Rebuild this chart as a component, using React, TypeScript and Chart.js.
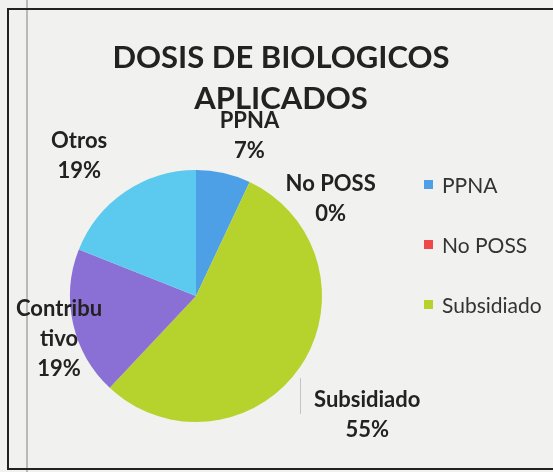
import React, { useEffect, useRef } from "react";
import { Chart, registerables } from "chart.js";

Chart.register(...registerables);

const titleLines = ["DOSIS DE BIOLOGICOS", "APLICADOS"];
const categories = ["PPNA", "No POSS", "Subsidiado", "Contributivo", "Otros"];
const labelText = ["PPNA", "No POSS", "Subsidiado", "Contribu\ntivo", "Otros"];
const values = [7, 0, 55, 19, 19];
const colors = ["#4d9fe6", "#f04848", "#b6d22c", "#8a6fd5", "#5ccaee"];
const legendShown = 3;

const W = 553;
const H = 472;
const FONT = "Lato, 'Open Sans', sans-serif";

// offsets of each data label block from the outer point of its slice
const labelOffsets = [
  { dx: 26, dy: -37 },
  { dx: 81, dy: 17 },
  { dx: 67, dy: 48 },
  { dx: -14, dy: 15 },
  { dx: -46, dy: -36 },
];

const decorPlugin = {
  id: "decor",
  beforeDraw(chart: any) {
    const ctx = chart.ctx;
    ctx.save();
    ctx.fillStyle = "#f1f1ef";
    ctx.fillRect(0, 0, W, H);
    ctx.strokeStyle = "#b9b9bb";
    ctx.lineWidth = 2;
    ctx.beginPath();
    ctx.moveTo(27, 0);
    ctx.lineTo(27, H);
    ctx.stroke();
    ctx.strokeStyle = "#222";
    ctx.lineWidth = 2;
    ctx.beginPath();
    ctx.moveTo(W, 9);
    ctx.lineTo(8, 9);
    ctx.lineTo(8, 469);
    ctx.lineTo(W, 469);
    ctx.stroke();
    ctx.restore();
  },
  afterDraw(chart: any) {
    const ctx = chart.ctx;
    const meta = chart.getDatasetMeta(0);
    const total = values.reduce((a, b) => a + b, 0);
    ctx.save();
    ctx.fillStyle = "#222";
    ctx.textAlign = "center";
    ctx.textBaseline = "middle";
    ctx.font = `bold 31px ${FONT}`;
    titleLines.forEach((t, i) => ctx.fillText(t, 281, 58 + i * 41));

    // thin gray leader line near Subsidiado
    ctx.strokeStyle = "#c4c4c4";
    ctx.lineWidth = 1;
    ctx.beginPath();
    ctx.moveTo(300.5, 378);
    ctx.lineTo(300.5, 414);
    ctx.stroke();

    ctx.font = `bold 22px ${FONT}`;
    ctx.fillStyle = "#222";
    meta.data.forEach((arc: any, i: number) => {
      const { x, y, startAngle, endAngle, outerRadius } = arc.getProps(
        ["x", "y", "startAngle", "endAngle", "outerRadius"],
        true
      );
      const mid = (startAngle + endAngle) / 2;
      const ox = x + Math.cos(mid) * outerRadius + labelOffsets[i].dx;
      const oy = y + Math.sin(mid) * outerRadius + labelOffsets[i].dy;
      const pct = Math.round((values[i] / total) * 100) + "%";
      const lines = [...labelText[i].split("\n"), pct];
      const lh = 30;
      const y0 = oy - ((lines.length - 1) * lh) / 2;
      lines.forEach((l, k) => ctx.fillText(l, ox, y0 + k * lh));
    });

    ctx.textAlign = "left";
    ctx.font = `21px ${FONT}`;
    for (let i = 0; i < legendShown; i++) {
      const ly = 185 + i * 60;
      ctx.fillStyle = colors[i];
      ctx.fillRect(424, ly - 5, 9, 9);
      ctx.fillStyle = "#333";
      ctx.fillText(categories[i], 442, ly + 1);
    }
    ctx.restore();
  },
};

export default function App() {
  const ref = useRef<HTMLCanvasElement>(null);
  useEffect(() => {
    document.body.style.margin = "0";
    const chart = new Chart(ref.current!, {
      type: "pie",
      data: {
        labels: categories,
        datasets: [
          {
            data: values,
            backgroundColor: colors,
            borderWidth: 0,
          },
        ],
      },
      options: {
        animation: false,
        responsive: false,
        devicePixelRatio: 1,
        layout: { padding: { left: 70, top: 170, right: 231, bottom: 50 } },
        plugins: {
          legend: { display: false },
          tooltip: { enabled: false },
          title: { display: false },
        },
      },
      plugins: [decorPlugin],
    });
    return () => chart.destroy();
  }, []);
  return <canvas ref={ref} width={W} height={H} style={{ display: "block" }} />;
}
